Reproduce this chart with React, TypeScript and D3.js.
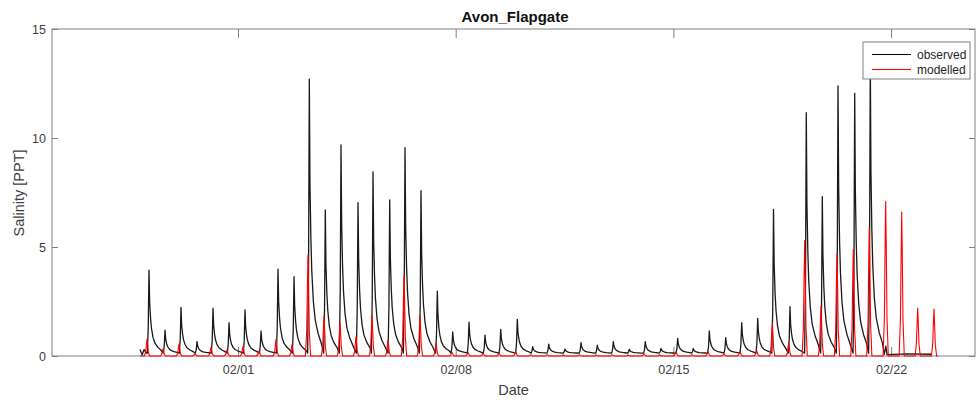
import * as d3 from 'd3';
import React, { useEffect, useRef } from 'react';

// axis ticks
const dateTicks = ['2021-02-01', '2021-02-08', '2021-02-15', '2021-02-22'];
const yTicks = [0, 5, 10, 15];

// observed high-water peaks: days after 02/01 00:00, salinity [PPT]
const obsPeakDay = [
    -2.862, -2.347, -1.833, -1.318, -0.804, -0.289, 0.225, 0.740, 1.286, 1.801,
    2.293, 2.807, 3.312, 3.859, 4.341, 4.878, 5.370, 5.884, 6.408, 6.904,
    7.428, 7.942, 8.447, 8.981, 9.476, 9.990, 10.514, 11.029, 11.553, 12.068,
    12.582, 13.096, 13.601, 14.138, 14.640, 15.154, 15.682, 16.196, 16.711, 17.219,
    17.749, 18.273, 18.788, 19.293, 19.830, 20.331
];
const obsPeak = [
    3.94, 1.19, 2.23, 0.66, 2.19, 1.53, 2.11, 1.15, 3.98, 3.64,
    12.7, 6.7, 9.68, 7.03, 8.45, 7.16, 9.56, 7.58, 2.98, 1.1,
    1.55, 0.96, 1.22, 1.68, 0.43, 0.54, 0.32, 0.61, 0.5, 0.66,
    0.31, 0.66, 0.35, 0.81, 0.35, 1.15, 0.84, 1.53, 1.73, 6.73,
    2.26, 11.16, 7.31, 12.39, 12.05, 13.6
];

// modelled peaks
const modPeakDay = [
    -2.926, -2.412, -1.897, -1.383, -0.868, -0.354, 0.161, 0.675, 1.222, 1.736,
    2.251, 2.765, 3.280, 3.794, 4.309, 4.823, 5.338, 5.852, 6.367, 6.881,
    7.395, 7.878, 8.392, 8.929, 9.421, 9.936, 10.466, 10.981, 11.511, 12.026,
    12.540, 13.055, 13.553, 14.084, 14.598, 15.113, 15.627, 16.141, 16.678, 17.180,
    17.707, 18.222, 18.746, 19.260, 19.785, 20.299, 20.826, 21.341, 21.855, 22.379
];
const modPeak = [
    0.77, 0.33, 0.55, 0.11, 0.40, 0.28, 0.43, 0.23, 0.76, 0.52,
    4.63, 1.84, 1.57, 0.88, 1.84, 0.72, 3.71, 1.84, 0.57, 0.17,
    0.16, 0.13, 0.13, 0.20, 0.06, 0.06, 0.05, 0.06, 0.05, 0.06,
    0.05, 0.10, 0.05, 0.20, 0.06, 0.20, 0.10, 0.20, 0.25, 1.50,
    0.60, 5.30, 2.30, 4.70, 4.90, 5.90, 7.10, 6.60, 2.20, 2.15
];

// peak shapes: [hours from peak, fraction of peak]
const obsShape = [[-1.3, 0], [-0.6, 0.3], [0, 1], [0.5, 0.62], [1.2, 0.42], [1.9, 0.3], [3.1, 0.19], [4.6, 0.12], [6.9, 0.07], [9.3, 0.035]];
const modShape = [[-2.0, 0], [-1.0, 0.25], [-0.45, 0.7], [0, 1], [0.45, 0.7], [1.0, 0.25], [2.0, 0]];
const obsBase = 0.13;

// start and end of the records [day, PPT]
const obsHead = [[-3.15, 0.3], [-3.08, 0.05], [-3.02, 0.3], [-2.95, 0.13]];
const obsTail = [[20.78, 0.08], [20.83, 0.45], [20.87, 0.06], [21.5, 0.1], [22.31, 0.08]];
const modHead = [[-3.15, 0]];
const modTail = [[22.51, 0]];

const FONT = '"Liberation Sans", Arial, Helvetica, sans-serif';

function App() {
    const ref = useRef(null);

    useEffect(() => {
        const svg = d3.select(ref.current);
        svg.selectAll('*').remove();

        const left = 52, right = 975, top = 29, bottom = 356;
        const t0 = new Date(2021, 1, 1).getTime();
        const toDate = (d) => new Date(t0 + d * 864e5);

        const x = d3.scaleTime()
            .domain([toDate(-5.981), toDate(23.698)])
            .range([left, right]);
        const y = d3.scaleLinear()
            .domain([0, 15])
            .range([bottom, top]);

        const tickDates = dateTicks.map(s => d3.timeParse('%Y-%m-%d')(s));
        const fmt = d3.timeFormat('%m/%d');

        const styleAxis = g => {
            g.select('.domain').remove();
            g.selectAll('.tick line').attr('stroke', '#808080');
            g.selectAll('.tick text')
                .attr('fill', '#404040')
                .style('font-family', FONT)
                .style('font-size', '12.5px');
        };

        svg.append('g')
            .attr('transform', `translate(0,${bottom})`)
            .call(d3.axisBottom(x).tickValues(tickDates).tickFormat(fmt).tickSizeInner(-9).tickSizeOuter(0).tickPadding(9))
            .call(styleAxis);
        svg.append('g')
            .attr('transform', `translate(0,${top})`)
            .call(d3.axisTop(x).tickValues(tickDates).tickFormat('').tickSizeInner(-9).tickSizeOuter(0))
            .call(styleAxis);
        svg.append('g')
            .attr('transform', `translate(${left},0)`)
            .call(d3.axisLeft(y).tickValues(yTicks).tickSizeInner(-6).tickSizeOuter(0).tickPadding(6))
            .call(styleAxis);
        svg.append('g')
            .attr('transform', `translate(${right},0)`)
            .call(d3.axisRight(y).tickValues(yTicks).tickFormat('').tickSizeInner(-6).tickSizeOuter(0))
            .call(styleAxis);

        svg.append('rect')
            .attr('x', left).attr('y', top)
            .attr('width', right - left).attr('height', bottom - top)
            .attr('fill', 'none')
            .attr('stroke', '#808080')
            .attr('stroke-width', 1);

        // build the two series
        const obsPts = [...obsHead];
        obsPeakDay.forEach((t, i) => {
            obsShape.forEach(([h, f]) => {
                obsPts.push([t + h / 24, obsBase + (obsPeak[i] - obsBase) * f]);
            });
        });
        obsPts.push(...obsTail);

        const modPts = [...modHead];
        modPeakDay.forEach((t, i) => {
            modShape.forEach(([h, f]) => {
                modPts.push([t + h / 24, modPeak[i] * f]);
            });
        });
        modPts.push(...modTail);

        const line = d3.line()
            .x(d => x(toDate(d[0])))
            .y(d => y(d[1]));

        svg.append('path')
            .datum(obsPts)
            .attr('d', line)
            .attr('fill', 'none')
            .attr('stroke', '#1a1a1a')
            .attr('stroke-width', 1.3)
            .attr('stroke-linejoin', 'round');

        svg.append('path')
            .datum(modPts)
            .attr('d', line)
            .attr('fill', 'none')
            .attr('stroke', '#ff0000')
            .attr('stroke-width', 1.1)
            .attr('stroke-linejoin', 'round');

        // title and labels
        svg.append('text')
            .attr('x', 515).attr('y', 22)
            .attr('text-anchor', 'middle')
            .attr('fill', '#111')
            .style('font-family', FONT)
            .style('font-size', '15px')
            .style('font-weight', 'bold')
            .text('Avon_Flapgate');

        svg.append('text')
            .attr('x', (left + right) / 2).attr('y', 395)
            .attr('text-anchor', 'middle')
            .attr('fill', '#404040')
            .style('font-family', FONT)
            .style('font-size', '14.5px')
            .text('Date');

        svg.append('text')
            .attr('transform', 'translate(24,193) rotate(-90)')
            .attr('text-anchor', 'middle')
            .attr('fill', '#404040')
            .style('font-family', FONT)
            .style('font-size', '14.5px')
            .text('Salinity [PPT]');

        // legend
        const legend = svg.append('g').attr('transform', 'translate(863,42)');
        legend.append('rect')
            .attr('width', 107).attr('height', 37)
            .attr('fill', '#fff')
            .attr('stroke', '#808080');
        [['observed', '#000'], ['modelled', '#ff0000']].forEach(([name, c], i) => {
            const ly = 12.5 + i * 15;
            legend.append('line')
                .attr('x1', 9).attr('x2', 48)
                .attr('y1', ly).attr('y2', ly)
                .attr('stroke', c);
            legend.append('text')
                .attr('x', 54).attr('y', ly)
                .attr('dy', '0.35em')
                .attr('fill', '#262626')
                .style('font-family', FONT)
                .style('font-size', '12px')
                .text(name);
        });
    }, []);

    return (
        <svg ref={ref} width={977} height={403}
            style={{ position: 'absolute', left: 0, top: 0, background: '#fff' }} />
    );
}

export default App;
